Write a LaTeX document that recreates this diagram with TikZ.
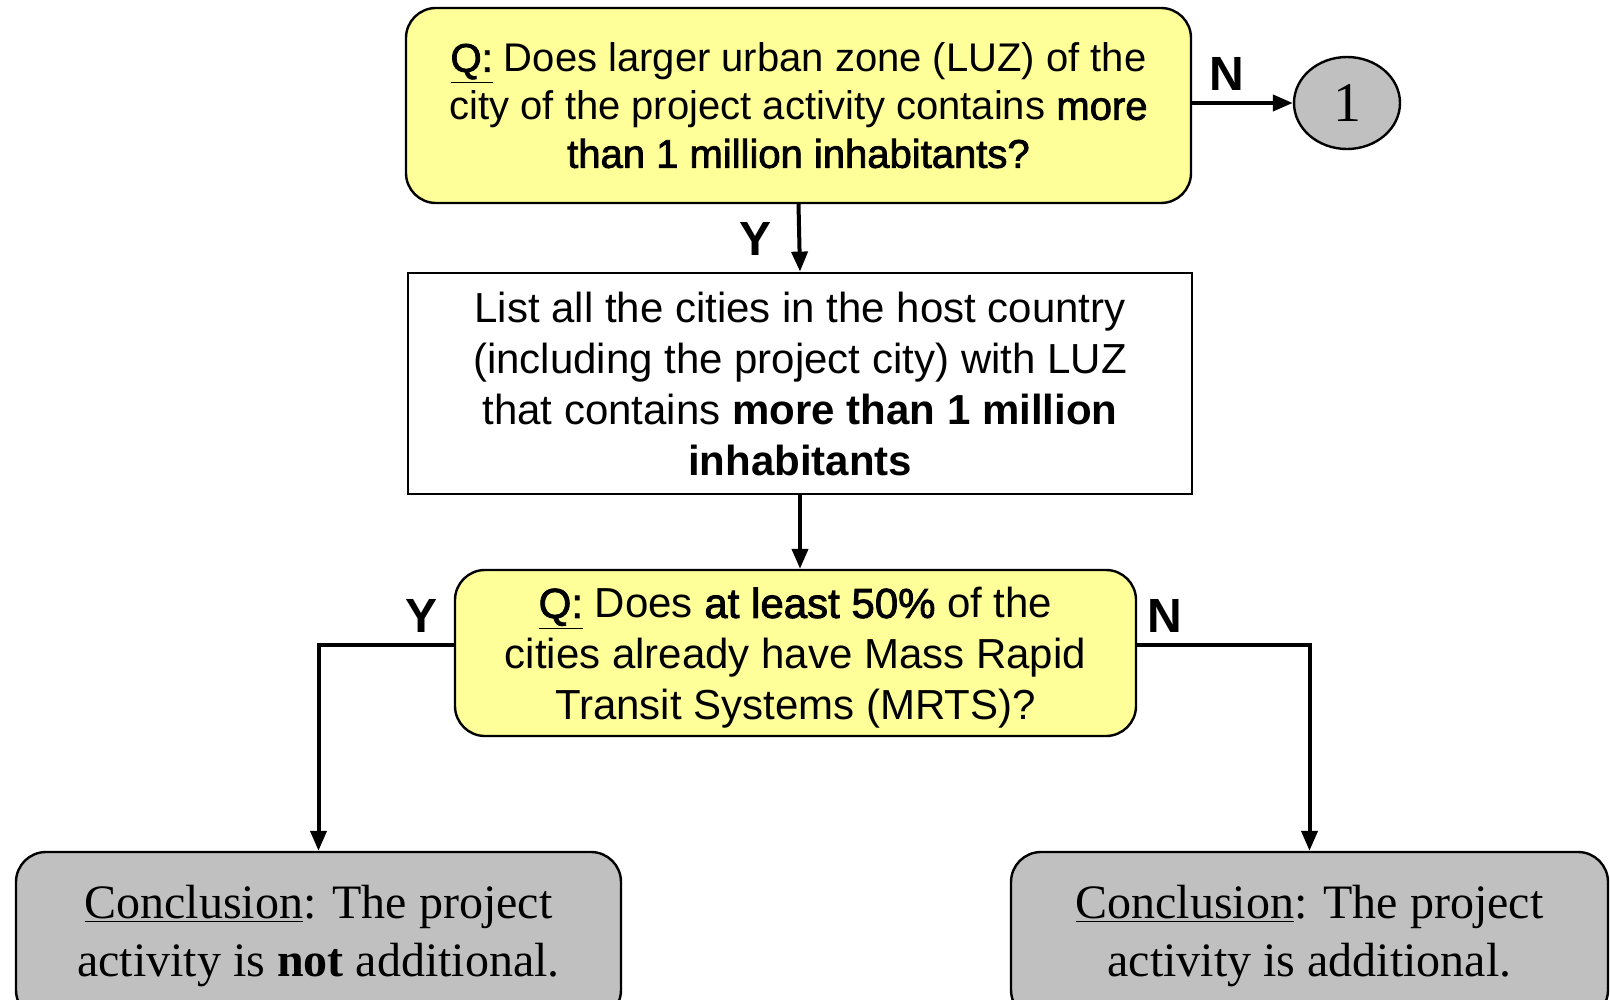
\documentclass[tikz,border=0pt]{standalone}
\usepackage{fontspec}
\setmainfont{Liberation Serif}
\setsansfont{Liberation Sans}
\newfontfamily\fakebold[FakeBold=2]{Liberation Sans}
\usetikzlibrary{arrows.meta,shapes.geometric}
\definecolor{qyellow}{RGB}{255,255,153}
\definecolor{endgray}{RGB}{192,192,192}
\begin{document}
\begin{tikzpicture}[x=0.5pt,y=-0.5pt,
    qbox/.style={draw,line width=1.2pt,fill=qyellow,rounded corners=15pt,align=center,inner sep=0pt},
    listbox/.style={draw,line width=1.4pt,fill=white,align=center,inner sep=0pt},
    endbox/.style={draw,line width=1.2pt,fill=endgray,rounded corners=15pt,align=center,inner sep=0pt,
      font=\fontsize{24}{29}\selectfont},
    lbl/.style={font=\sffamily\bfseries\fontsize{24}{26}\selectfont},
    arr/.style={line width=2pt,-{Triangle[length=10pt,width=8pt]}}]
  \useasboundingbox (0,0) rectangle (1610,1000);
  % question boxes
  \node[qbox,minimum width=392.5pt,minimum height=97.5pt,font=\sffamily\fontsize{20}{24}\selectfont] (luz) at (798.5,105.5)
    {\underline{\fakebold Q:} Does larger urban zone (LUZ) of the\\
     city of the project activity contains {\fakebold more}\\
     {\fakebold than 1 million inhabitants?}};
  \node[draw,line width=1.2pt,fill=endgray,ellipse,minimum width=53pt,minimum height=46pt,inner sep=0pt,
    font=\fontsize{28}{30}\selectfont] (one) at (1347,103) {1};
  \node[listbox,minimum width=392pt,minimum height=110.5pt,font=\sffamily\fontsize{21}{25.5}\selectfont] (list) at (800,383.5)
    {List all the cities in the host country\\
     (including the project city) with LUZ\\
     that contains \textbf{more than 1 million}\\
     \textbf{inhabitants}};
  \node[qbox,minimum width=340.5pt,minimum height=83pt,font=\sffamily\fontsize{21}{25.5}\selectfont] (mrts) at (795.5,653)
    {\rule{0pt}{20.3pt}\underline{\fakebold Q:} Does {\fakebold at least 50\%} of the\\
     cities already have Mass Rapid\\
     Transit Systems (MRTS)?};
  % conclusions
  \node[endbox,minimum width=302.5pt,minimum height=84pt] (notadd) at (318.5,936)
    {\underline{Conclusion}: The project\\
     activity is \textbf{not} additional.};
  \node[endbox,minimum width=298.5pt,minimum height=84pt] (add) at (1309.5,936)
    {\underline{Conclusion}: The project\\
     activity is additional.};
  % connectors
  \draw[arr] (one.west -| luz.east) -- (one.west);
  \draw[arr] (luz.south) -- (list.north);
  \draw[arr] (list.south) -- (list.south |- mrts.north);
  \draw[arr] ([yshift=4pt]mrts.west) -| (notadd.north);
  \draw[arr] ([yshift=4pt]mrts.east) -| (add.north);
  % labels
  \node[lbl] (n1) at (1227,74) {N};
  \node[lbl] (y1) at (755,239) {Y};
  \node[lbl] (y2) at (422,616) {Y};
  \node[lbl] (n2) at (1165,616) {N};
\end{tikzpicture}
\end{document}
